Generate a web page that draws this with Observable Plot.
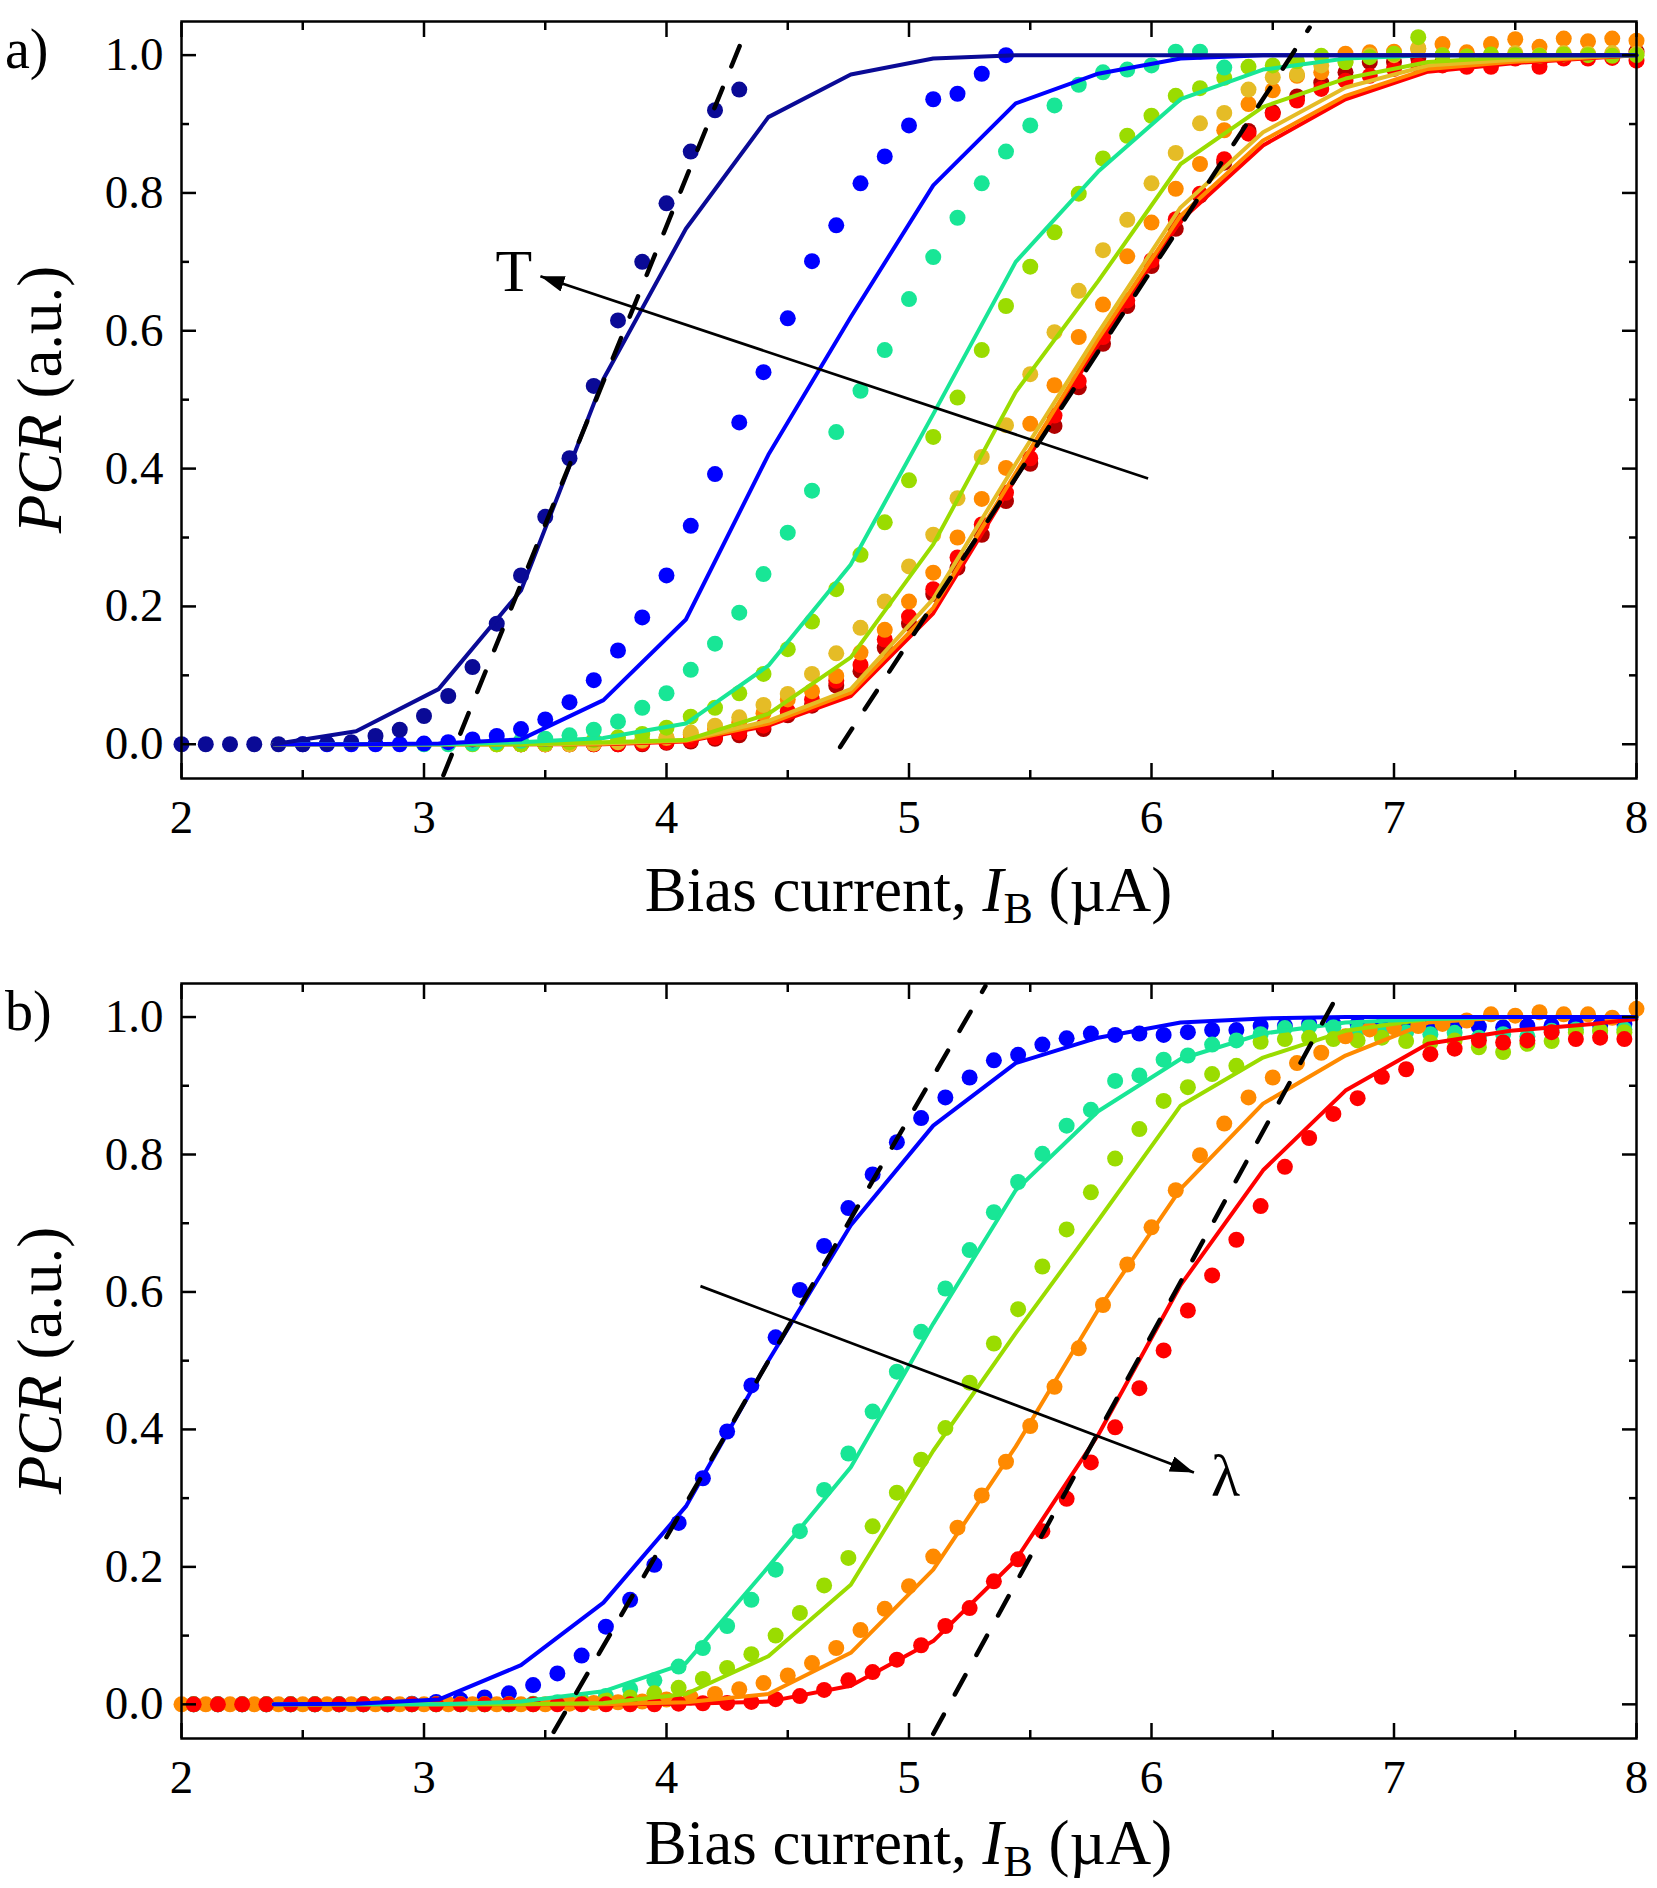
<!DOCTYPE html>
<html>
<head>
<meta charset="utf-8">
<script src="https://cdn.jsdelivr.net/npm/d3@7"></script>
<script src="https://cdn.jsdelivr.net/npm/@observablehq/plot@0.6"></script>
<style>
  html, body { margin: 0; padding: 0; background: #fff; }
  #chart svg { display: block; }
</style>
</head>
<body>
<div id="chart"></div>
<script>
// ---------- axis / tick data ----------
const xDomain = [2, 8];
const yDomain = [-0.0497, 1.0488];
const xMajor = [2, 3, 4, 5, 6, 7, 8];
const xMinor = [2.5, 3.5, 4.5, 5.5, 6.5, 7.5];
const yMajor = [0, 0.2, 0.4, 0.6, 0.8, 1.0];
const yMinor = [0.1, 0.3, 0.5, 0.7, 0.9];
const yTickLabels = ["0.0", "0.2", "0.4", "0.6", "0.8", "1.0"];

// ---------- colours ----------
const cNavy = "#0a0a96", cBlue = "#0000ff", cTeal = "#18e696", cYG = "#9adc00",
      cGold = "#e5bc26", cOrange = "#ff8a00", cRed = "#ff0000", cDark = "#b00000";

// ---------- panel a) measured points (x start, step 0.1) ----------
const navyDotsA_x0 = 2.0;
const navyDotsA = [0,0,0,0,0,0,0.001,0.003,0.012,0.021,0.041,0.07,0.112,0.175,0.245,0.33,0.415,0.52,0.615,0.70,0.785,0.86,0.92,0.95];
const blueDotsA_x0 = 2.5;
const blueDotsA = [0,0,0,0,0,0.001,0.003,0.007,0.012,0.022,0.036,0.061,0.093,0.136,0.184,0.245,0.317,0.392,0.467,0.540,0.618,0.701,0.753,0.814,0.853,0.898,0.936,0.944,0.973,1.0];
const tealDotsA_x0 = 3.0;
const tealDotsA = [0,0,0.001,0.003,0.005,0.008,0.013,0.021,0.033,0.053,0.074,0.108,0.146,0.191,0.247,0.307,0.368,0.453,0.513,0.572,0.646,0.707,0.764,0.814,0.86,0.898,0.927,0.957,0.975,0.979,0.985,1.005,1.005,0.982];
const ygDotsA_x0 = 3.2;
const ygDotsA = [0,0,0,0.001,0.003,0.006,0.01,0.015,0.024,0.04,0.053,0.074,0.102,0.138,0.178,0.225,0.275,0.322,0.383,0.446,0.503,0.572,0.636,0.693,0.743,0.799,0.85,0.883,0.912,0.941,0.952,0.967,0.983,0.985,0.991,0.999,0.99,0.997,1.002,1.026,1.0,0.998,1.001,1.0,0.999,1.001,1.0,0.999,1.0];
const goldDotsA_x0 = 3.3;
const goldDotsA = [0,0,0,0,0.001,0.003,0.006,0.01,0.017,0.027,0.039,0.057,0.073,0.102,0.132,0.169,0.207,0.258,0.304,0.357,0.417,0.463,0.537,0.598,0.658,0.717,0.761,0.814,0.858,0.901,0.916,0.95,0.968,0.972,0.985,0.99,1.0,1.0,1.01,1.0,0.998,1.0,1.003,1.0,1.003,1.002,1.003,1.002];
const orangeDotsA_x0 = 3.3;
const orangeDotsA = [0,0,0,0,0.001,0.003,0.005,0.009,0.014,0.022,0.032,0.045,0.065,0.077,0.099,0.133,0.166,0.207,0.249,0.30,0.356,0.401,0.465,0.521,0.591,0.638,0.708,0.757,0.806,0.842,0.891,0.929,0.949,0.970,0.975,1.002,1.004,1.005,1.009,1.016,1.004,1.016,1.023,1.012,1.024,1.02,1.024,1.021];
const redDotsA_x0 = 3.4;
const redDotsA = [0,0,0,0,0,0.001,0.003,0.006,0.01,0.017,0.027,0.048,0.065,0.092,0.115,0.152,0.185,0.225,0.271,0.319,0.365,0.415,0.477,0.527,0.591,0.644,0.702,0.762,0.799,0.849,0.886,0.915,0.934,0.951,0.963,0.97,0.98,0.985,0.985,0.983,0.983,0.995,0.983,0.995,0.995,0.996,0.992];
const darkDotsA_x0 = 3.4;
const darkDotsA = [0,0,0,0,0,0,0.002,0.004,0.008,0.013,0.022,0.042,0.056,0.085,0.106,0.14,0.175,0.218,0.256,0.304,0.353,0.407,0.462,0.518,0.581,0.636,0.694,0.748,0.796,0.844,0.89,0.917,0.94,0.96,0.975,0.99,0.99,0.995,0.99,0.99,0.995,1.0,0.99,1.0,1.0,1.0,1.005];

// ---------- panel a) model curves ----------
const modelX = [2.38,2.72,3.06,3.40,3.74,4.08,4.42,4.76,5.10,5.44,5.78,6.12,6.46,6.80,7.14,7.48,7.82,8.0];
const navyLineA   = [0,0.019,0.080,0.223,0.53,0.748,0.91,0.972,0.995,1.0,1.0,1.0,1.0,1.0,1.0,1.0,1.0,1.0];
const blueLineA   = [0,0,0.001,0.007,0.064,0.181,0.42,0.62,0.811,0.93,0.973,0.995,1.0,1.0,1.0,1.0,1.0,1.0];
const tealLineA   = [0,0,0,0.003,0.009,0.030,0.114,0.261,0.479,0.70,0.831,0.936,0.979,0.995,1.0,1.0,1.0,1.0];
const ygLineA     = [0,0,0,0,0.003,0.006,0.044,0.126,0.29,0.511,0.672,0.842,0.925,0.966,0.99,0.997,1.0,1.0];
const goldLineA   = [0,0,0,0,0.001,0.006,0.034,0.080,0.211,0.407,0.597,0.779,0.888,0.953,0.985,0.993,0.998,1.0];
const orangeLineA = [0,0,0,0,0.001,0.005,0.030,0.075,0.198,0.394,0.588,0.767,0.876,0.941,0.98,0.99,0.997,1.0];
const redLineA    = [0,0,0,0,0,0.004,0.027,0.070,0.19,0.386,0.58,0.76,0.869,0.936,0.976,0.988,0.996,1.0];

const dashA1 = [{x: 3.08, y: -0.045}, {x: 4.335, y: 1.042}];
const dashA2 = [{x: 4.716, y: -0.004}, {x: 6.652, y: 1.040}];
const arrowA = [{x1: 5.986, y1: 0.3856, x2: 3.48, y2: 0.679}];
const labelA = [{x: 3.37, y: 0.685, text: "T"}];

// ---------- panel b) measured points (x start, step 0.1) ----------
const blueDotsB_x0 = 2.05;
const blueDotsB = [0,0,0,0,0,0,0,0,0,0.001, 0.0035,0.0065,0.010,0.016,0.028,0.045,0.071,0.113,0.152,0.203, 0.264,0.329,0.397,0.464,0.534,0.603,0.667,0.722,0.771,0.818, 0.853,0.883,0.912,0.937,0.945,0.960,0.969,0.976,0.974,0.976, 0.974,0.978,0.981,0.981,0.987,0.987,0.99,0.99,0.99,0.988, 0.987,0.985,0.987,0.986,0.985,0.987,0.988,0.99,0.988,0.99];
const tealDotsB_x0 = 2.05;
const tealDotsB = [0,0,0,0,0,0,0,0,0,0, 0,0,0,0,0.001,0.003,0.006,0.012,0.022,0.035, 0.055,0.082,0.114,0.152,0.196,0.252,0.312,0.365,0.426,0.484, 0.542,0.605,0.661,0.716,0.760,0.801,0.842,0.865,0.907,0.915, 0.938,0.944,0.960,0.966,0.975,0.984,0.986,0.985,0.982,0.98, 0.978,0.975,0.977,0.97,0.975,0.972,0.98,0.982,0.98,0.982];
const ygDotsB_x0 = 2.05;
const ygDotsB = [0,0,0,0,0,0,0,0,0,0, 0,0,0,0,0,0.001,0.003,0.006,0.010,0.016, 0.024,0.037,0.053,0.073,0.100,0.133,0.173,0.213,0.259,0.308, 0.356,0.402,0.468,0.525,0.575,0.637,0.691,0.745,0.794,0.837, 0.878,0.898,0.917,0.929,0.964,0.968,0.970,0.968,0.966,0.97, 0.965,0.963,0.966,0.956,0.949,0.961,0.965,0.978,0.98,0.978];
const orangeDotsB_x0 = 2.0;
const orangeDotsB = [0,0,0,0,0,0,0,0,0,0, 0,0,0,0,0,0,0.001,0.002,0.003,0.004, 0.007,0.010,0.015,0.022,0.031,0.042,0.060,0.082,0.108,0.139, 0.172,0.215,0.257,0.304,0.353,0.405,0.462,0.518,0.581,0.640, 0.694,0.748,0.799,0.845,0.883,0.912,0.933,0.948,0.972,0.982, 0.985,0.987,0.99,0.995,1.004,1.002,1.007,1.004,1.004,0.999,1.012];
const redDotsB_x0 = 2.05;
const redDotsB = [0,0,0,0,0,0,0,0,0,0, 0,0,0,0,0,0,0,0,0,0, 0.001,0.0015,0.002,0.0035,0.0075,0.012,0.021,0.035,0.047,0.065, 0.086,0.114,0.140,0.179,0.211,0.252,0.299,0.352,0.403,0.460, 0.515,0.573,0.624,0.676,0.725,0.782,0.824,0.859,0.882,0.913, 0.924,0.946,0.954,0.966,0.963,0.966,0.978,0.968,0.97,0.968];

// ---------- panel b) model curves ----------
const blueLineB   = [0,0.001,0.007,0.057,0.148,0.288,0.50,0.697,0.842,0.933,0.970,0.992,0.998,1.0,1.0,1.0,1.0,1.0];
const tealLineB   = [0,0,0,0.004,0.019,0.060,0.20,0.345,0.554,0.748,0.863,0.939,0.976,0.992,0.997,1.0,1.0,1.0];
const ygLineB     = [0,0,0,0,0.002,0.015,0.070,0.174,0.369,0.54,0.704,0.871,0.941,0.98,0.997,1.0,1.0,1.0];
const orangeLineB = [0,0,0,0,0,0.003,0.015,0.075,0.196,0.375,0.574,0.75,0.874,0.944,0.992,1.0,1.0,1.0];
const redLineB    = [0,0,0,0,0,0.001,0.004,0.027,0.092,0.21,0.392,0.61,0.777,0.893,0.961,0.98,0.99,0.997];

const dashB1 = [{x: 3.535, y: -0.04}, {x: 5.315, y: 1.045}];
const dashB2 = [{x: 5.10, y: -0.043}, {x: 6.78, y: 1.04}];
const arrowB = [{x1: 4.140, y1: 0.6085, x2: 6.175, y2: 0.3374}];
const labelB = [{x: 6.305, y: 0.3316, text: "λ"}];

// ---------- helpers ----------
const pts = (x0, ys) => ys.map((y, i) => ({x: +(x0 + 0.1 * i).toFixed(3), y}));
const curve = (ys) => ys.map((y, i) => ({x: modelX[i], y}));
const FONT = "'Liberation Serif', 'Times New Roman', serif";

function frameAxes() {
  const sw = 2.5;
  return [
    Plot.axisX({anchor: "bottom", ticks: xMajor, tickSize: -15, text: null, label: null, strokeWidth: sw}),
    Plot.axisX({anchor: "bottom", ticks: xMinor, tickSize: -8, text: null, label: null, strokeWidth: sw}),
    Plot.axisX({anchor: "top", ticks: xMajor, tickSize: -15, text: null, label: null, strokeWidth: sw}),
    Plot.axisX({anchor: "top", ticks: xMinor, tickSize: -8, text: null, label: null, strokeWidth: sw}),
    Plot.axisY({anchor: "left", ticks: yMajor, tickSize: -15, text: null, label: null, strokeWidth: sw}),
    Plot.axisY({anchor: "left", ticks: yMinor, tickSize: -8, text: null, label: null, strokeWidth: sw}),
    Plot.axisY({anchor: "right", ticks: yMajor, tickSize: -15, text: null, label: null, strokeWidth: sw}),
    Plot.axisY({anchor: "right", ticks: yMinor, tickSize: -8, text: null, label: null, strokeWidth: sw}),
    Plot.axisX({anchor: "bottom", ticks: xMajor, tickSize: 0, tickPadding: 21, label: null, fontSize: 47, tickFormat: d => String(d)}),
    Plot.axisY({anchor: "left", ticks: yMajor, tickSize: 0, tickPadding: 18, label: null, fontSize: 47, tickFormat: d => yTickLabels[yMajor.indexOf(d)]}),
    Plot.frame({stroke: "black", strokeWidth: 2.5})
  ];
}

function decorate(svg, panelText, markerId, xLabelOffset) {
  const s = d3.select(svg);
  const sx = svg.scale("x"), sy = svg.scale("y");
  const cx = (sx.range[0] + sx.range[1]) / 2;
  const cy = (sy.range[0] + sy.range[1]) / 2;
  const bottom = Math.max(sy.range[0], sy.range[1]);
  // arrow head marker
  const defs = s.append("defs");
  defs.append("marker")
    .attr("id", markerId).attr("viewBox", "0 0 24 16").attr("refX", 24).attr("refY", 8)
    .attr("markerWidth", 24).attr("markerHeight", 16).attr("markerUnits", "userSpaceOnUse")
    .attr("orient", "auto")
    .append("path").attr("d", "M0,0 L24,8 L0,16 Z").attr("fill", "black");
  s.selectAll('g[aria-label="link"] path').attr("marker-end", `url(#${markerId})`);
  // x label
  const xl = s.append("text").attr("x", cx).attr("y", bottom + xLabelOffset)
    .attr("text-anchor", "middle").attr("font-size", 63).attr("fill", "black").attr("font-family", FONT);
  xl.append("tspan").text("Bias current, ");
  xl.append("tspan").attr("font-style", "italic").text("I");
  xl.append("tspan").attr("font-size", 44).attr("dy", 12).text("B");
  xl.append("tspan").attr("dy", -12).text(" (µA)");
  // y label
  const yl = s.append("text").attr("transform", `translate(61,${cy}) rotate(-90)`)
    .attr("text-anchor", "middle").attr("font-size", 63).attr("fill", "black").attr("font-family", FONT);
  yl.append("tspan").attr("font-style", "italic").text("PCR");
  yl.append("tspan").text(" (a.u.)");
  // panel label
  s.append("text").attr("x", 5).attr("y", 68).attr("text-anchor", "start")
    .attr("font-size", 56).attr("fill", "black").attr("font-family", FONT).text(panelText);
}

const dotR = 8, lineW = 4;
const dashStyle = {x: "x", y: "y", stroke: "black", strokeWidth: 4.5, strokeDasharray: "22,23"};

function makePlot(height, marginBottom, marks) {
  return Plot.plot({
    width: 1657, height,
    marginTop: 21, marginBottom, marginLeft: 181, marginRight: 21,
    x: {domain: xDomain},
    y: {domain: yDomain},
    style: {fontFamily: FONT, fontSize: "47px", color: "black", background: "white", overflow: "visible"},
    marks
  });
}

// ---------- panel a ----------
const plotA = makePlot(962, 184, [
  Plot.dot(pts(darkDotsA_x0, darkDotsA), {x: "x", y: "y", r: dotR, fill: cDark}),
  Plot.dot(pts(redDotsA_x0, redDotsA), {x: "x", y: "y", r: dotR, fill: cRed}),
  Plot.dot(pts(orangeDotsA_x0, orangeDotsA), {x: "x", y: "y", r: dotR, fill: cOrange}),
  Plot.dot(pts(goldDotsA_x0, goldDotsA), {x: "x", y: "y", r: dotR, fill: cGold}),
  Plot.dot(pts(ygDotsA_x0, ygDotsA), {x: "x", y: "y", r: dotR, fill: cYG}),
  Plot.dot(pts(tealDotsA_x0, tealDotsA), {x: "x", y: "y", r: dotR, fill: cTeal}),
  Plot.dot(pts(blueDotsA_x0, blueDotsA), {x: "x", y: "y", r: dotR, fill: cBlue}),
  Plot.dot(pts(navyDotsA_x0, navyDotsA), {x: "x", y: "y", r: dotR, fill: cNavy}),
  Plot.line(curve(redLineA), {x: "x", y: "y", stroke: cRed, strokeWidth: lineW}),
  Plot.line(curve(orangeLineA), {x: "x", y: "y", stroke: cOrange, strokeWidth: lineW}),
  Plot.line(curve(goldLineA), {x: "x", y: "y", stroke: cGold, strokeWidth: lineW}),
  Plot.line(curve(ygLineA), {x: "x", y: "y", stroke: cYG, strokeWidth: lineW}),
  Plot.line(curve(tealLineA), {x: "x", y: "y", stroke: cTeal, strokeWidth: lineW}),
  Plot.line(curve(blueLineA), {x: "x", y: "y", stroke: cBlue, strokeWidth: lineW}),
  Plot.line(curve(navyLineA), {x: "x", y: "y", stroke: cNavy, strokeWidth: lineW}),
  Plot.line(dashA1, dashStyle),
  Plot.line(dashA2, dashStyle),
  Plot.link(arrowA, {x1: "x1", y1: "y1", x2: "x2", y2: "y2", stroke: "black", strokeWidth: 2.7}),
  Plot.text(labelA, {x: "x", y: "y", text: "text", fontSize: 60, fill: "black"}),
  ...frameAxes()
]);

// ---------- panel b ----------
const plotB = makePlot(926, 150, [
  Plot.dot(pts(blueDotsB_x0, blueDotsB), {x: "x", y: "y", r: dotR, fill: cBlue}),
  Plot.dot(pts(tealDotsB_x0, tealDotsB), {x: "x", y: "y", r: dotR, fill: cTeal}),
  Plot.dot(pts(ygDotsB_x0, ygDotsB), {x: "x", y: "y", r: dotR, fill: cYG}),
  Plot.dot(pts(orangeDotsB_x0, orangeDotsB), {x: "x", y: "y", r: dotR, fill: cOrange}),
  Plot.dot(pts(redDotsB_x0, redDotsB), {x: "x", y: "y", r: dotR, fill: cRed}),
  Plot.line(curve(redLineB), {x: "x", y: "y", stroke: cRed, strokeWidth: lineW}),
  Plot.line(curve(orangeLineB), {x: "x", y: "y", stroke: cOrange, strokeWidth: lineW}),
  Plot.line(curve(ygLineB), {x: "x", y: "y", stroke: cYG, strokeWidth: lineW}),
  Plot.line(curve(tealLineB), {x: "x", y: "y", stroke: cTeal, strokeWidth: lineW}),
  Plot.line(curve(blueLineB), {x: "x", y: "y", stroke: cBlue, strokeWidth: lineW}),
  Plot.line(dashB1, dashStyle),
  Plot.line(dashB2, dashStyle),
  Plot.link(arrowB, {x1: "x1", y1: "y1", x2: "x2", y2: "y2", stroke: "black", strokeWidth: 2.7}),
  Plot.text(labelB, {x: "x", y: "y", text: "text", fontSize: 60, fill: "black"}),
  ...frameAxes()
]);

const chart = document.getElementById("chart");
chart.appendChild(plotA);
chart.appendChild(plotB);
decorate(plotA, "a)", "headA", 133);
decorate(plotB, "b)", "headB", 126);
</script>
</body>
</html>
